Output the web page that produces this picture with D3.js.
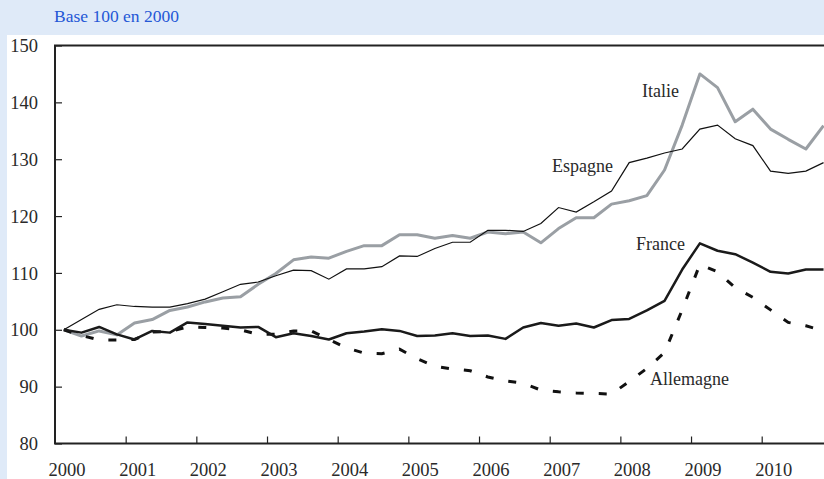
<!DOCTYPE html>
<html>
<head>
<meta charset="utf-8">
<script src="https://cdn.jsdelivr.net/npm/d3@7/dist/d3.min.js"></script>
<style>
  html, body { margin: 0; padding: 0; background: #dfeaf8; }
  svg { display: block; }
  text { font-family: "Liberation Serif", "DejaVu Serif", serif; fill: #2a2a2a; }
</style>
</head>
<body>
<div id="chart"></div>
<script>
"use strict";
//quarterly index, base 100 in 2000, 2000Q1 .. 2010Q4
var years = [2000, 2001, 2002, 2003, 2004, 2005, 2006, 2007, 2008, 2009, 2010];
var yTicks = [80, 90, 100, 110, 120, 130, 140, 150];

var espagne = [100, 101.8, 103.6, 104.4, 104.1, 104.0, 104.0, 104.6, 105.4, 106.7, 108.0,
  108.4, 109.5, 110.5, 110.4, 108.9, 110.7, 110.7, 111.1, 113.0, 112.9, 114.3, 115.4,
  115.4, 117.5, 117.5, 117.3, 118.7, 121.5, 120.7, 122.5, 124.4, 129.4, 130.2, 131.1,
  131.8, 135.3, 136.0, 133.6, 132.4, 127.9, 127.5, 127.9, 129.4];

var italie = [100, 98.9, 99.8, 99.1, 101.2, 101.8, 103.4, 104.0, 104.9, 105.6, 105.8,
  108.0, 109.9, 112.3, 112.8, 112.6, 113.8, 114.8, 114.8, 116.7, 116.7, 116.1, 116.6,
  116.1, 117.2, 116.9, 117.2, 115.3, 117.8, 119.7, 119.7, 122.1, 122.7, 123.6, 128.1,
  136.0, 145.0, 142.6, 136.6, 138.8, 135.3, 133.5, 131.8, 135.9];

var france = [100, 99.5, 100.5, 99.2, 98.3, 99.8, 99.5, 101.3, 101.0, 100.7, 100.4,
  100.5, 98.7, 99.4, 98.9, 98.3, 99.4, 99.7, 100.1, 99.8, 98.9, 99.0, 99.4, 98.9, 99.0,
  98.4, 100.4, 101.2, 100.7, 101.1, 100.4, 101.7, 101.9, 103.4, 105.1, 110.6, 115.2,
  113.9, 113.3, 111.8, 110.2, 109.9, 110.6, 110.6];

var allemagne = [100, 99.0, 98.2, 98.2, 98.3, 99.6, 99.7, 100.5, 100.4, 100.3, 100.0,
  99.2, 99.2, 99.8, 99.8, 98.3, 96.8, 95.9, 95.8, 96.6, 94.9, 93.6, 93.1, 92.8, 91.7,
  91.0, 90.6, 89.4, 89.1, 88.9, 88.8, 88.7, 90.9, 93.2, 96.0, 103.5, 111.5, 110.2,
  107.4, 105.7, 103.5, 101.3, 100.7, 99.8];

var W = 824, H = 479;
var padLeft = 55, padTop = 45.5, axisY = 443.5;

var svg = d3.select("#chart").append("svg")
  .attr("width", W)
  .attr("height", H);

//white panel under the header band
svg.append("rect")
  .attr("x", 7).attr("y", 35)
  .attr("width", W - 7).attr("height", H - 35)
  .attr("fill", "#fff");

svg.append("text")
  .attr("x", 54).attr("y", 22)
  .style("font-size", "17.5px")
  .style("fill", "#2457d6")
  .text("Base 100 en 2000");

//one year = 70.67px, quarters sit mid-quarter
var x = d3.scaleLinear().domain([2000, 2011]).range([padLeft, padLeft + 11 * 70.67]);
var y = d3.scaleLinear().domain([80, 150]).range([axisY, padTop]);

function qx(i) {
  return x(2000 + (i + 0.5) / 4);
}

var line = d3.line()
  .x(function(d, i) { return qx(i); })
  .y(function(d) { return y(d); });

var g = svg.append("g");

g.append("path").datum(italie)
  .attr("d", line)
  .attr("fill", "none")
  .attr("stroke", "#9a9fa4")
  .attr("stroke-width", 3)
  .attr("stroke-linejoin", "round");

g.append("path").datum(espagne)
  .attr("d", line)
  .attr("fill", "none")
  .attr("stroke", "#111")
  .attr("stroke-width", 1.2);

g.append("path").datum(allemagne)
  .attr("d", line)
  .attr("fill", "none")
  .attr("stroke", "#111")
  .attr("stroke-width", 3)
  .attr("stroke-dasharray", "8,15");

g.append("path").datum(france)
  .attr("d", line)
  .attr("fill", "none")
  .attr("stroke", "#1a1a1a")
  .attr("stroke-width", 2.5)
  .attr("stroke-linejoin", "round");

//axes
var yAxis = d3.axisLeft(y).tickValues(yTicks).tickSize(-7).tickPadding(17);
var ya = svg.append("g").attr("transform", "translate(" + padLeft + ",0)").call(yAxis);
ya.select(".domain").remove();
ya.selectAll("line").attr("stroke", "#222").attr("stroke-width", 1.2);
ya.selectAll("text").style("font-size", "18.5px").attr("dy", "0.33em");

var xAxis = d3.axisBottom(x).tickValues(years.slice(1)).tickSize(-7).tickFormat("");
var xa = svg.append("g").attr("transform", "translate(0," + axisY + ")").call(xAxis);
xa.select(".domain").remove();
xa.selectAll("line").attr("stroke", "#222").attr("stroke-width", 1.2);

svg.append("g").selectAll("text").data(years).join("text")
  .attr("x", function(d) { return x(d) + 12; })
  .attr("y", 476)
  .attr("text-anchor", "middle")
  .style("font-size", "18.5px")
  .text(function(d) { return d; });

//frame: left, top and bottom (right side runs off the page)
svg.append("path")
  .attr("d", "M" + W + "," + padTop + "H" + padLeft + "V" + axisY + "H" + W)
  .attr("fill", "none")
  .attr("stroke", "#222")
  .attr("stroke-width", 2);

//series labels
var labels = [
  { name: "Italie", x: 642, y: 97 },
  { name: "Espagne", x: 552, y: 172 },
  { name: "France", x: 636, y: 250 },
  { name: "Allemagne", x: 650, y: 385 }
];
svg.append("g").selectAll("text").data(labels).join("text")
  .attr("x", function(d) { return d.x; })
  .attr("y", function(d) { return d.y; })
  .style("font-size", "18px")
  .text(function(d) { return d.name; });
</script>
</body>
</html>
